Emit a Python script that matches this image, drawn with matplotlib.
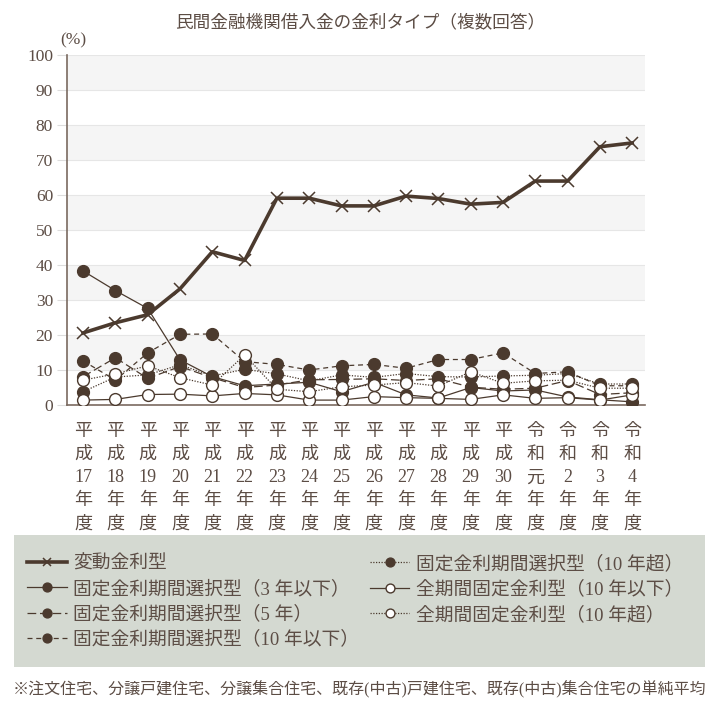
import matplotlib
matplotlib.use("Agg")
import matplotlib.pyplot as plt
import numpy as np
from matplotlib.patches import Rectangle

plt.rcParams['font.family'] = ['Liberation Serif', 'Noto Sans CJK JP']

years = ["平\n成\n17\n年\n度", "平\n成\n18\n年\n度", "平\n成\n19\n年\n度", "平\n成\n20\n年\n度",
         "平\n成\n21\n年\n度", "平\n成\n22\n年\n度", "平\n成\n23\n年\n度", "平\n成\n24\n年\n度",
         "平\n成\n25\n年\n度", "平\n成\n26\n年\n度", "平\n成\n27\n年\n度", "平\n成\n28\n年\n度",
         "平\n成\n29\n年\n度", "平\n成\n30\n年\n度", "令\n和\n元\n年\n度", "令\n和\n2\n年\n度",
         "令\n和\n3\n年\n度", "令\n和\n4\n年\n度"]

hendo = [20.6, 23.5, 25.8, 33.2, 43.8, 41.3, 59.1, 59.1, 56.9, 56.9, 59.7, 59.0, 57.4, 57.9, 64.0, 64.0, 73.8, 74.9]
kotei_3 = [38.3, 32.7, 27.6, 12.9, 8.1, 5.5, 6.0, 6.5, 3.8, 6.5, 2.9, 2.0, 5.0, 4.0, 4.3, 2.3, 1.5, 0.9]
kotei_5 = [8.1, 13.5, 7.6, 11.0, 7.8, 5.0, 5.7, 7.2, 7.3, 7.5, 7.0, 7.5, 5.1, 4.5, 4.8, 7.0, 3.0, 3.5]
kotei_10ika = [12.6, 7.1, 14.9, 20.2, 20.3, 12.4, 11.6, 10.0, 11.2, 11.6, 10.5, 13.0, 13.0, 14.9, 9.0, 9.5, 5.5, 5.5]
kotei_10cho = [3.8, 8.0, 8.6, 11.5, 8.3, 10.2, 8.9, 6.9, 8.6, 7.9, 9.0, 8.1, 8.0, 8.3, 8.5, 9.0, 6.0, 6.0]
zen_10ika = [1.4, 1.6, 3.0, 3.1, 2.6, 3.3, 2.9, 1.4, 1.4, 2.4, 2.1, 1.9, 1.6, 2.9, 1.9, 2.1, 1.4, 2.9]
zen_10cho = [7.1, 8.9, 11.2, 7.8, 5.7, 14.3, 4.5, 3.8, 5.2, 5.7, 6.4, 5.4, 9.5, 6.2, 6.9, 7.1, 4.8, 4.8]

brown = '#4b3a2e'
txt = '#5c4d45'

fig = plt.figure(figsize=(7.2, 7.2), dpi=100)
ax = fig.add_axes([0.093, 0.4375, 0.803, 0.486])

x = np.arange(len(years))

# alternating bands
for lo in range(10, 100, 20):
    ax.axhspan(lo, lo + 10, color='#f5f5f5', zorder=0, lw=0)
for v in range(10, 101, 10):
    ax.axhline(v, color='#e6e6e6', lw=0.8, zorder=0.5)

lines = []
lines += ax.plot(x, hendo, color=brown, lw=2.6, marker='x', ms=8, mew=1.1, label='変動金利型', zorder=3)

filled = dict(color=brown, lw=0.9, marker='o', ms=8.5, mfc=brown, mec=brown, zorder=4)
lines += ax.plot(x, kotei_3, ls='-', label='固定金利期間選択型（3 年以下）', **filled)
lines += ax.plot(x, kotei_5, ls=(0, (7, 3)), label='固定金利期間選択型（5 年）', **filled)
lines += ax.plot(x, kotei_10ika, ls=(0, (4, 3)), label='固定金利期間選択型（10 年以下）', **filled)
lines += ax.plot(x, kotei_10cho, ls=(0, (1, 1.2)), label='固定金利期間選択型（10 年超）', **filled)

opened = dict(color=brown, lw=0.9, marker='o', ms=8.5, mfc='white', mec=brown, mew=1.0, zorder=5)
lines += ax.plot(x, zen_10ika, ls='-', label='全期間固定金利型（10 年以下）', **opened)
lines += ax.plot(x, zen_10cho, ls=(0, (1, 1.2)), label='全期間固定金利型（10 年超）', **opened)

ax.set_xlim(-0.5, 17.4)
ax.set_ylim(0, 100)
ax.set_yticks(range(0, 101, 10))
ax.tick_params(axis='y', length=7, color='#dddddd', labelsize=12.5, labelcolor=txt, pad=3)
ax.set_xticks(x)
ax.set_xticklabels(years, fontsize=13, color=txt, linespacing=1.47)
ax.tick_params(axis='x', length=0, pad=13)

for s in ['top', 'right']:
    ax.spines[s].set_visible(False)
for s in ['left', 'bottom']:
    ax.spines[s].set_color('#7a6a60')
    ax.spines[s].set_linewidth(1.2)

fig.text(0.5, 0.969, '民間金融機関借入金の金利タイプ（複数回答）', ha='center', va='center', fontsize=12.7, color=txt)
fig.text(0.083, 0.944, '(%)', ha='left', va='center', fontsize=12.5, color=txt)

# legend box
fig.patches.append(Rectangle((0.019, 0.074), 0.96, 0.183, transform=fig.transFigure,
                             facecolor='#d4d9d1', edgecolor='none', zorder=0))

leg_kw = dict(frameon=False, fontsize=13.5, handlelength=2.1, handletextpad=0.35,
              labelspacing=0.4, borderaxespad=0, borderpad=0, markerscale=0.75,
              bbox_transform=fig.transFigure, loc='upper left', labelcolor=txt)
leg1 = fig.legend(lines[:4], [l.get_label() for l in lines[:4]], bbox_to_anchor=(0.038, 0.229), **leg_kw)
leg2 = fig.legend(lines[4:], [l.get_label() for l in lines[4:]], bbox_to_anchor=(0.514, 0.229), **leg_kw)

fig.text(0.5, 0.042, '※注文住宅、分譲戸建住宅、分譲集合住宅、既存(中古)戸建住宅、既存(中古)集合住宅の単純平均',
         ha='center', va='center', fontsize=11.5, color=txt)

fig.savefig('out.png', dpi=100, facecolor='white')
